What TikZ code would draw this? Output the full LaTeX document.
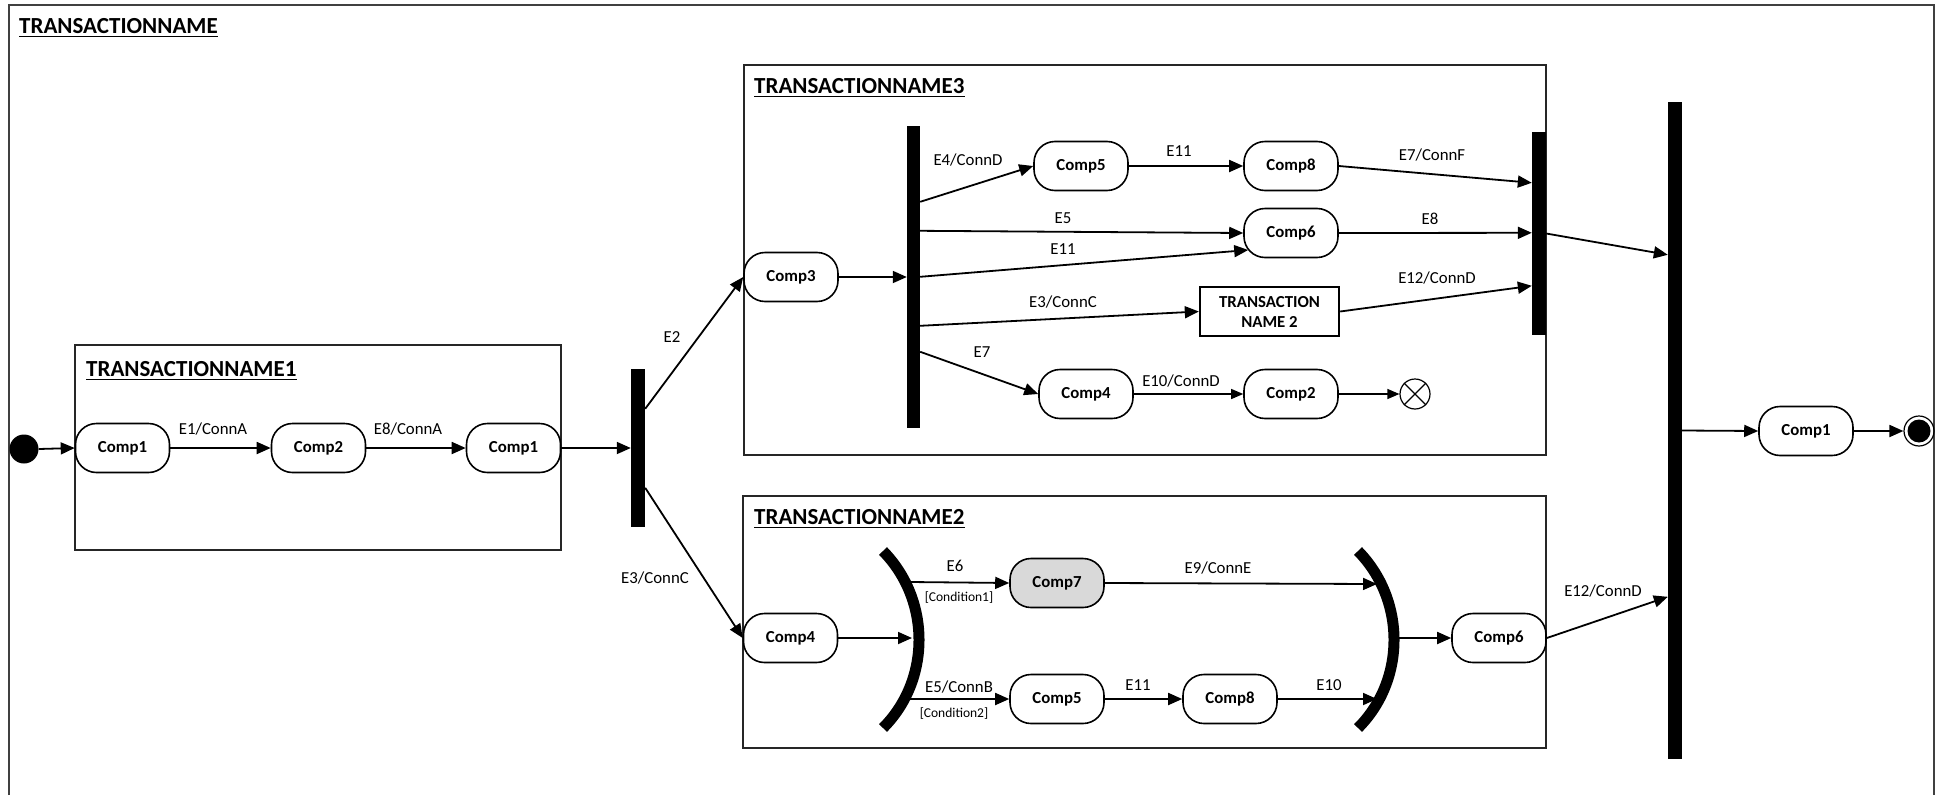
\documentclass[tikz,border=0pt]{standalone}
\usepackage{fontspec}
\setmainfont{Carlito}
\usetikzlibrary{arrows.meta,calc}

\begin{document}
\begin{tikzpicture}[x=1pt,y=-1pt,
  state/.style={draw, line width=1.6pt, rounded corners=21pt, minimum width=94pt,
    minimum height=49pt, inner sep=0pt, fill=white,
    font=\fontsize{16.8}{19}\selectfont\bfseries},
  bar/.style={fill=black, draw=none, inner sep=0pt, minimum width=14pt},
  box/.style={draw=black!85, line width=1.3pt},
  flow/.style={-{Triangle[length=14pt,width=12pt]}, line width=1.8pt},
  thinflow/.style={-{Triangle[length=12pt,width=10pt]}, line width=1.2pt},
  lbl/.style={inner sep=0pt, font=\fontsize{16.8}{19}\selectfont},
  cond/.style={inner sep=0pt, font=\fontsize{13.5}{16}\selectfont},
  ttl/.style={inner sep=0pt, anchor=base west, font=\fontsize{23}{27}\selectfont\bfseries},
  uline/.style={line width=1.5pt},
]
\useasboundingbox (0,0) rectangle (1945,795);

% outer frame (open at the bottom)
\draw[draw=black!75, line width=1.5pt] (9,795) -- (9,5) -- (1934,5) -- (1934,795);
\node[ttl] (t0) at (19,33) {TRANSACTIONNAME};
\draw[uline] ($(t0.base west)+(0,3.5)$) -- ($(t0.base east)+(0,3.5)$);

% composite states
\draw[box] (75,345) rectangle (561,550);
\node[ttl] (t1) at (86,376) {TRANSACTIONNAME1};
\draw[uline] ($(t1.base west)+(0,3.5)$) -- ($(t1.base east)+(0,3.5)$);

\draw[box] (744,65) rectangle (1546,455);
\node[ttl] (t3) at (754,93) {TRANSACTIONNAME3};
\draw[uline] ($(t3.base west)+(0,3.5)$) -- ($(t3.base east)+(0,3.5)$);

\draw[box] (743,496) rectangle (1546,748);
\node[ttl] (t2) at (754,524) {TRANSACTIONNAME2};
\draw[uline] ($(t2.base west)+(0,3.5)$) -- ($(t2.base east)+(0,3.5)$);

% fork / join bars
\node[bar, minimum height=158pt] (bar1) at (638,448) {};
\node[bar, minimum width=13pt, minimum height=302pt] (bar2) at (913.5,277) {};
\node[bar, minimum height=203pt] (bar3) at (1539,233.5) {};
\node[bar, minimum height=657pt] (bar4) at (1675,430.5) {};

% initial and final states
\node[circle, fill=black, minimum size=29pt, inner sep=0pt] (ini) at (24,449) {};
\node[circle, draw, line width=1.2pt, minimum size=30pt, inner sep=0pt] (fin) at (1919,431) {};
\fill (fin.center) circle (11.5);

% TRANSACTIONNAME1
\node[state] (a1) at (122.5,448) {Comp1};
\node[state] (a2) at (318.5,448) {Comp2};
\node[state] (a3) at (513.5,448) {Comp1};

% TRANSACTIONNAME3
\node[state] (c3) at (791,277) {Comp3};
\node[state] (c5) at (1081,166) {Comp5};
\node[state] (c8) at (1291,166) {Comp8};
\node[state] (c6) at (1291,233) {Comp6};
\node[draw, line width=2.4pt, minimum width=139pt, minimum height=49pt, inner sep=0pt,
  align=center, font=\fontsize{16.8}{20}\selectfont\bfseries] (tn2) at (1269.5,311.5)
  {TRANSACTION\\NAME 2};
\node[state] (c4a) at (1086,394) {Comp4};
\node[state] (c2a) at (1291,394) {Comp2};
\node[circle, draw, line width=1.2pt, minimum size=30pt, inner sep=0pt] (term) at (1415,394) {};
\draw[line width=1.2pt] (term.north west) -- (term.south east)
                         (term.north east) -- (term.south west);

% TRANSACTIONNAME2
\node[state] (b4) at (790.5,638) {Comp4};
\node[state, fill=black!15] (b7) at (1057,583) {Comp7};
\node[state] (b5) at (1057,699) {Comp5};
\node[state] (b8) at (1230,699) {Comp8};
\node[state] (b6) at (1499,638) {Comp6};

% final
\node[state] (f1) at (1806,431) {Comp1};

% choice brackets
\draw[line width=11pt] (883,551) .. controls (931,600) and (931,680) .. (883,728);
\draw[line width=11pt] (1358,551) .. controls (1406,600) and (1406,680) .. (1358,728);
\coordinate (lbin) at (912,638);
\coordinate (lb1) at (910,582);
\coordinate (lb2) at (910,699);
\coordinate (rb1) at (1377,584);
\coordinate (rb2) at (1377,699);
\coordinate (rbout) at (1399,638);

% transitions
\draw[flow] (ini.east) -- (a1.west);
\draw[flow] (a1) -- (a2);
\draw[flow] (a2) -- (a3);
\draw[flow] (a3.east) -- (bar1.west);
\draw[flow] ($(bar1.north east)+(0,40)$) -- (c3.west);
\draw[flow] ($(bar1.north east)+(0,119)$) -- (b4.west);

\draw[flow] (c3.east) -- (bar2.west);
\draw[flow] ($(bar2.north east)+(0,76)$) -- (c5.west);
\draw[flow] ($(bar2.north east)+(0,105)$) -- (c6.west);
\draw[flow] ($(bar2.north east)+(0,151)$) -- ($(c6.west)+(5,17)$);
\draw[flow] ($(bar2.north east)+(0,200)$) -- (tn2.west);
\draw[flow] ($(bar2.north east)+(0,226)$) -- (c4a.west);
\draw[flow] (c5) -- (c8);
\draw[thinflow] (c4a) -- (c2a);
\draw[thinflow] (c2a) -- (term);
\draw[flow] (c8.east) -- ($(bar3.north west)+(0,51)$);
\draw[flow] (c6.east) -- ($(bar3.north west)+(0,101)$);
\draw[flow] (tn2.east) -- ($(bar3.north west)+(0,154)$);
\draw[flow] (bar3.east) -- ($(bar4.north west)+(0,153)$);

\draw[flow] (b4.east) -- (lbin);
\draw[flow] (lb1) -- (b7.west);
\draw[flow] (lb2) -- (b5.west);
\draw[flow] (b7.east) -- (rb1);
\draw[flow] (b5) -- (b8);
\draw[flow] (b8.east) -- (rb2);
\draw[flow] (rbout) -- (b6.west);
\draw[flow] (b6.east) -- ($(bar4.north west)+(0,495)$);
\draw[flow] (bar4.east) -- (f1.west);
\draw[flow] (f1) -- (fin);

% transition labels
\node[lbl] (l1) at (213,429) {E1/ConnA};
\node[lbl] (l2) at (408,429) {E8/ConnA};
\node[lbl] (l3) at (672,337) {E2};
\node[lbl] (l4) at (655,578) {E3/ConnC};
\node[lbl] (l5) at (968,160) {E4/ConnD};
\node[lbl] (l6) at (1179,151) {E11};
\node[lbl] (l7) at (1063,218) {E5};
\node[lbl] (l8) at (1063,249) {E11};
\node[lbl] (l9) at (1063,302) {E3/ConnC};
\node[lbl] (l10) at (982,352) {E7};
\node[lbl] (l11) at (1181,381) {E10/ConnD};
\node[lbl] (l12) at (1432,155) {E7/ConnF};
\node[lbl] (l13) at (1430,219) {E8};
\node[lbl] (l14) at (1437,278) {E12/ConnD};
\node[lbl] (l15) at (955,566) {E6};
\node[cond] (l16) at (959,598) {[Condition1]};
\node[lbl] (l17) at (1218,568) {E9/ConnE};
\node[lbl] (l18) at (959,687) {E5/ConnB};
\node[cond] (l19) at (954,714) {[Condition2]};
\node[lbl] (l20) at (1138,685) {E11};
\node[lbl] (l21) at (1329,685) {E10};
\node[lbl] (l22) at (1603,591) {E12/ConnD};
\end{tikzpicture}
\end{document}
